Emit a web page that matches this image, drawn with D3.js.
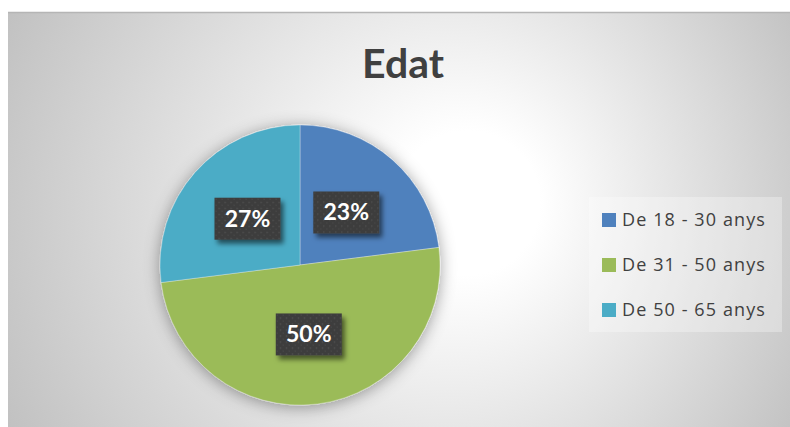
<!DOCTYPE html>
<html>
<head>
<meta charset="utf-8">
<script src="https://cdn.jsdelivr.net/npm/d3@7"></script>
<style>
body { margin: 0; background: #ffffff; }
svg { display: block; }
</style>
</head>
<body>
<svg></svg>
<script>
// data
var categories = ["De 18 - 30 anys", "De 31 - 50 anys", "De 50 - 65 anys"]
var values = [23, 50, 27]
var colors = ["#4F81BD", "#9BBB59", "#4BACC6"]
var title = "Edat"

var screen = {width:790, height:427}
var area = {left:8, top:12}
var pieCenter = {x:300, y:265}
var radius = 140

var svg = d3.select("svg")
    .attr("width", screen.width)
    .attr("height", screen.height)

var defs = svg.append("defs")

// radial background like the excel chart area
var grad = defs.append("radialGradient")
    .attr("id", "bg")
    .attr("gradientUnits", "userSpaceOnUse")
    .attr("cx", 400).attr("cy", 220).attr("r", 480)
    .attr("fx", 480).attr("fy", 200)
grad.append("stop").attr("offset", 0).attr("stop-color", "#ffffff")
grad.append("stop").attr("offset", 0.15).attr("stop-color", "#ffffff")
grad.append("stop").attr("offset", 1).attr("stop-color", "#bcbcbc")

// glow under pie
var pf = defs.append("filter").attr("id", "pieShadow")
    .attr("x", "-20%").attr("y", "-20%").attr("width", "140%").attr("height", "140%")
pf.append("feDropShadow")
    .attr("dx", 0).attr("dy", 2)
    .attr("stdDeviation", 8)
    .attr("flood-color", "#000000")
    .attr("flood-opacity", 0.38)

// shadow for the label boxes
var lf = defs.append("filter").attr("id", "boxShadow")
    .attr("x", "-20%").attr("y", "-20%").attr("width", "150%").attr("height", "150%")
lf.append("feDropShadow")
    .attr("dx", 3).attr("dy", 4)
    .attr("stdDeviation", 2.5)
    .attr("flood-color", "#000000")
    .attr("flood-opacity", 0.55)

// dotted dark fill
var pat = defs.append("pattern")
    .attr("id", "dots")
    .attr("patternUnits", "userSpaceOnUse")
    .attr("width", 6).attr("height", 6)
pat.append("rect").attr("width", 6).attr("height", 6).attr("fill", "#3d3d3d")
pat.append("rect").attr("x", 1).attr("y", 1).attr("width", 1.2).attr("height", 1.2).attr("fill", "#555555")
pat.append("rect").attr("x", 4).attr("y", 4).attr("width", 1.2).attr("height", 1.2).attr("fill", "#4b4b4b")

// chart area
svg.append("rect")
    .attr("x", area.left)
    .attr("y", area.top)
    .attr("width", screen.width - area.left)
    .attr("height", screen.height - area.top)
    .attr("fill", "url(#bg)")

svg.append("line")
    .attr("x1", area.left).attr("x2", screen.width)
    .attr("y1", area.top + 0.5).attr("y2", area.top + 0.5)
    .attr("stroke", "#b5b5b5")
    .attr("stroke-width", 1.5)

svg.append("text")
    .attr("x", 403)
    .attr("y", 78)
    .attr("text-anchor", "middle")
    .style("font-family", "Lato, 'Open Sans', sans-serif")
    .style("font-weight", "bold")
    .style("font-size", "41px")
    .attr("fill", "#404040")
    .text(title)

var cScale = d3.scaleOrdinal().domain(categories).range(colors)

var pie = d3.pie().sort(null).value(function(d) { return d.value })
var arcs = pie(categories.map(function(c, i) { return {name:c, value:values[i]} }))

var arc = d3.arc().innerRadius(0).outerRadius(radius)

var g = svg.append("g")
    .attr("transform", "translate(" + pieCenter.x + "," + pieCenter.y + ")")

g.append("g")
    .attr("filter", "url(#pieShadow)")
    .selectAll("path")
    .data(arcs)
    .enter()
    .append("path")
    .attr("d", arc)
    .attr("fill", function(d) { return cScale(d.data.name) })
    .attr("stroke", "#ffffff")
    .attr("stroke-opacity", 0.5)
    .attr("stroke-width", 0.6)

// percent labels on dark boxes
var box = {w:66, h:42}
var totals = d3.sum(values)
var labels = g.selectAll(".lab")
    .data(arcs)
    .enter()
    .append("g")
    .attr("class", "lab")
    .attr("transform", function(d) {
        var c = arc.centroid(d)
        return "translate(" + c[0] + "," + c[1] + ")"
    })

labels.append("rect")
    .attr("x", -box.w / 2)
    .attr("y", -box.h / 2)
    .attr("width", box.w)
    .attr("height", box.h)
    .attr("fill", "url(#dots)")
    .attr("filter", "url(#boxShadow)")

labels.append("text")
    .attr("text-anchor", "middle")
    .attr("y", 8)
    .style("font-family", "Lato, 'Open Sans', sans-serif")
    .style("font-weight", "bold")
    .style("font-size", "23px")
    .attr("fill", "#ffffff")
    .text(function(d) { return Math.round(d.data.value / totals * 100) + "%" })

// legend
var legend = svg.append("g").attr("id", "legend")

legend.append("rect")
    .attr("x", 589).attr("y", 197)
    .attr("width", 193).attr("height", 135)
    .attr("fill", "#ffffff")
    .attr("fill-opacity", 0.3)

var gs = legend.selectAll(".item")
    .data(categories)
    .enter()
    .append("g")
    .attr("class", "item")
    .attr("transform", function(d, i) { return "translate(602," + (213 + i * 45) + ")" })

gs.append("rect")
    .attr("width", 14)
    .attr("height", 14)
    .attr("fill", function(d) { return cScale(d) })

gs.append("text")
    .attr("x", 20)
    .attr("y", 13)
    .style("font-family", "'Open Sans', sans-serif")
    .style("font-size", "18px")
    .style("letter-spacing", "1.1px")
    .attr("fill", "#404040")
    .text(function(d) { return d })
</script>
</body>
</html>
